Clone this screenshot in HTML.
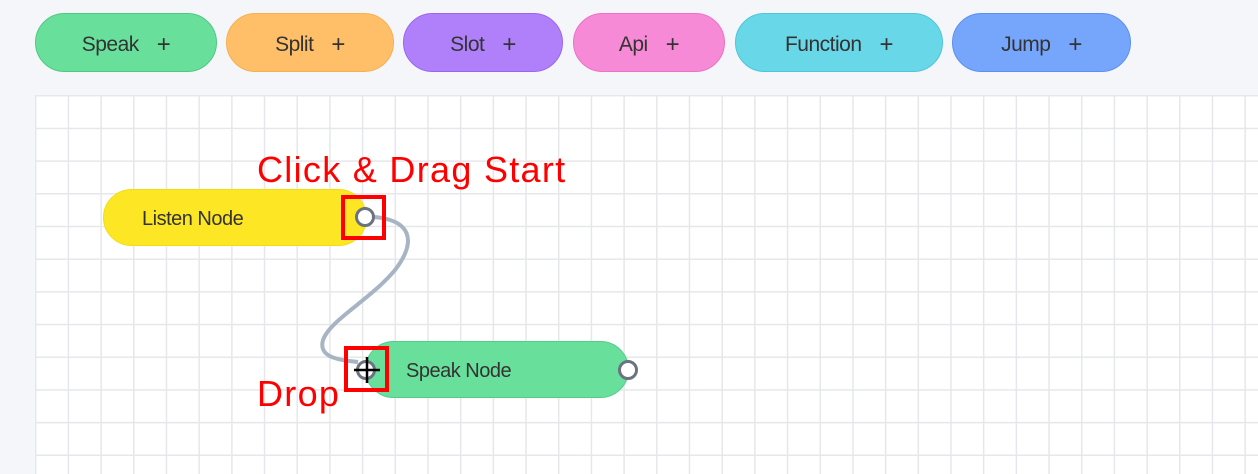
<!DOCTYPE html><html><head><style>
body{margin:0;width:1258px;height:474px;background:#f5f6fa;position:relative;overflow:hidden;font-family:"Liberation Sans","Noto Sans CJK KR",sans-serif}
.b{position:absolute;top:13px;height:59px;border-radius:30px;border:1.5px solid;box-sizing:border-box;display:flex;align-items:center;justify-content:center;font-size:21px;color:#333;letter-spacing:-0.5px;padding-top:4px}
.b span{margin-left:18px;font-size:24px}
#g{position:absolute;left:35px;top:95px;width:1223px;height:379px;background-color:#fff;background-image:linear-gradient(#e6e7ea 1.5px,transparent 1.5px),linear-gradient(90deg,#e6e7ea 1.5px,transparent 1.5px);background-size:32.7px 32.7px}
.n{position:absolute;height:57px;border-radius:29px;box-sizing:border-box;display:flex;align-items:center;font-size:20px;color:#333;letter-spacing:-0.5px;padding-top:3px}
.r{position:absolute;border:4px solid #f00;box-sizing:border-box}
.t{position:absolute;color:#f00;font-size:36px;letter-spacing:1.3px}
</style></head><body>
<div class="b" style="left:35px;width:182px;background:#68e09c;border-color:#4fc883">Speak<span>+</span></div>
<div class="b" style="left:226px;width:168px;background:#ffbf69;border-color:#f6b04f">Split<span>+</span></div>
<div class="b" style="left:403px;width:160px;background:#b080fb;border-color:#9a66ef">Slot<span>+</span></div>
<div class="b" style="left:573px;width:152px;background:#f78ad7;border-color:#eb72c6">Api<span>+</span></div>
<div class="b" style="left:735px;width:208px;background:#68d8e8;border-color:#4cc6d8">Function<span>+</span></div>
<div class="b" style="left:952px;width:179px;background:#76a6fc;border-color:#5b8ff0">Jump<span>+</span></div>
<div id="g"></div>
<div class="n" style="left:103px;top:189px;width:264px;background:#fde725;border:1px solid #f3dc10;padding-left:38px">Listen Node</div>
<div class="n" style="left:365px;top:341px;width:264px;background:#68e09c;border:1px solid #54cc88;padding-left:40px">Speak Node</div>
<svg width="1258" height="474" style="position:absolute;left:0;top:0">
<path d="M374 217 C410 220 418 240 395 270 C370 300 330 320 323 340 C318 358 340 360 358 362" fill="none" stroke="#a7b4c4" stroke-width="4"/>
<circle cx="365" cy="217" r="8.5" fill="#fff" stroke="#6b7280" stroke-width="3"/>
<circle cx="366" cy="370" r="8.5" fill="#fff" stroke="#6b7280" stroke-width="3"/>
<circle cx="628" cy="370" r="8.5" fill="#fff" stroke="#6b7280" stroke-width="3"/>
<path d="M354 370H380M367 357V383" stroke="#000" stroke-width="2.5"/>
</svg>
<div class="r" style="left:341px;top:195px;width:45px;height:45px"></div>
<div class="r" style="left:344px;top:346px;width:45px;height:46px"></div>
<div class="t" style="left:257px;top:149px">Click &amp; Drag Start</div>
<div class="t" style="left:257px;top:373px">Drop</div>
</body></html>
